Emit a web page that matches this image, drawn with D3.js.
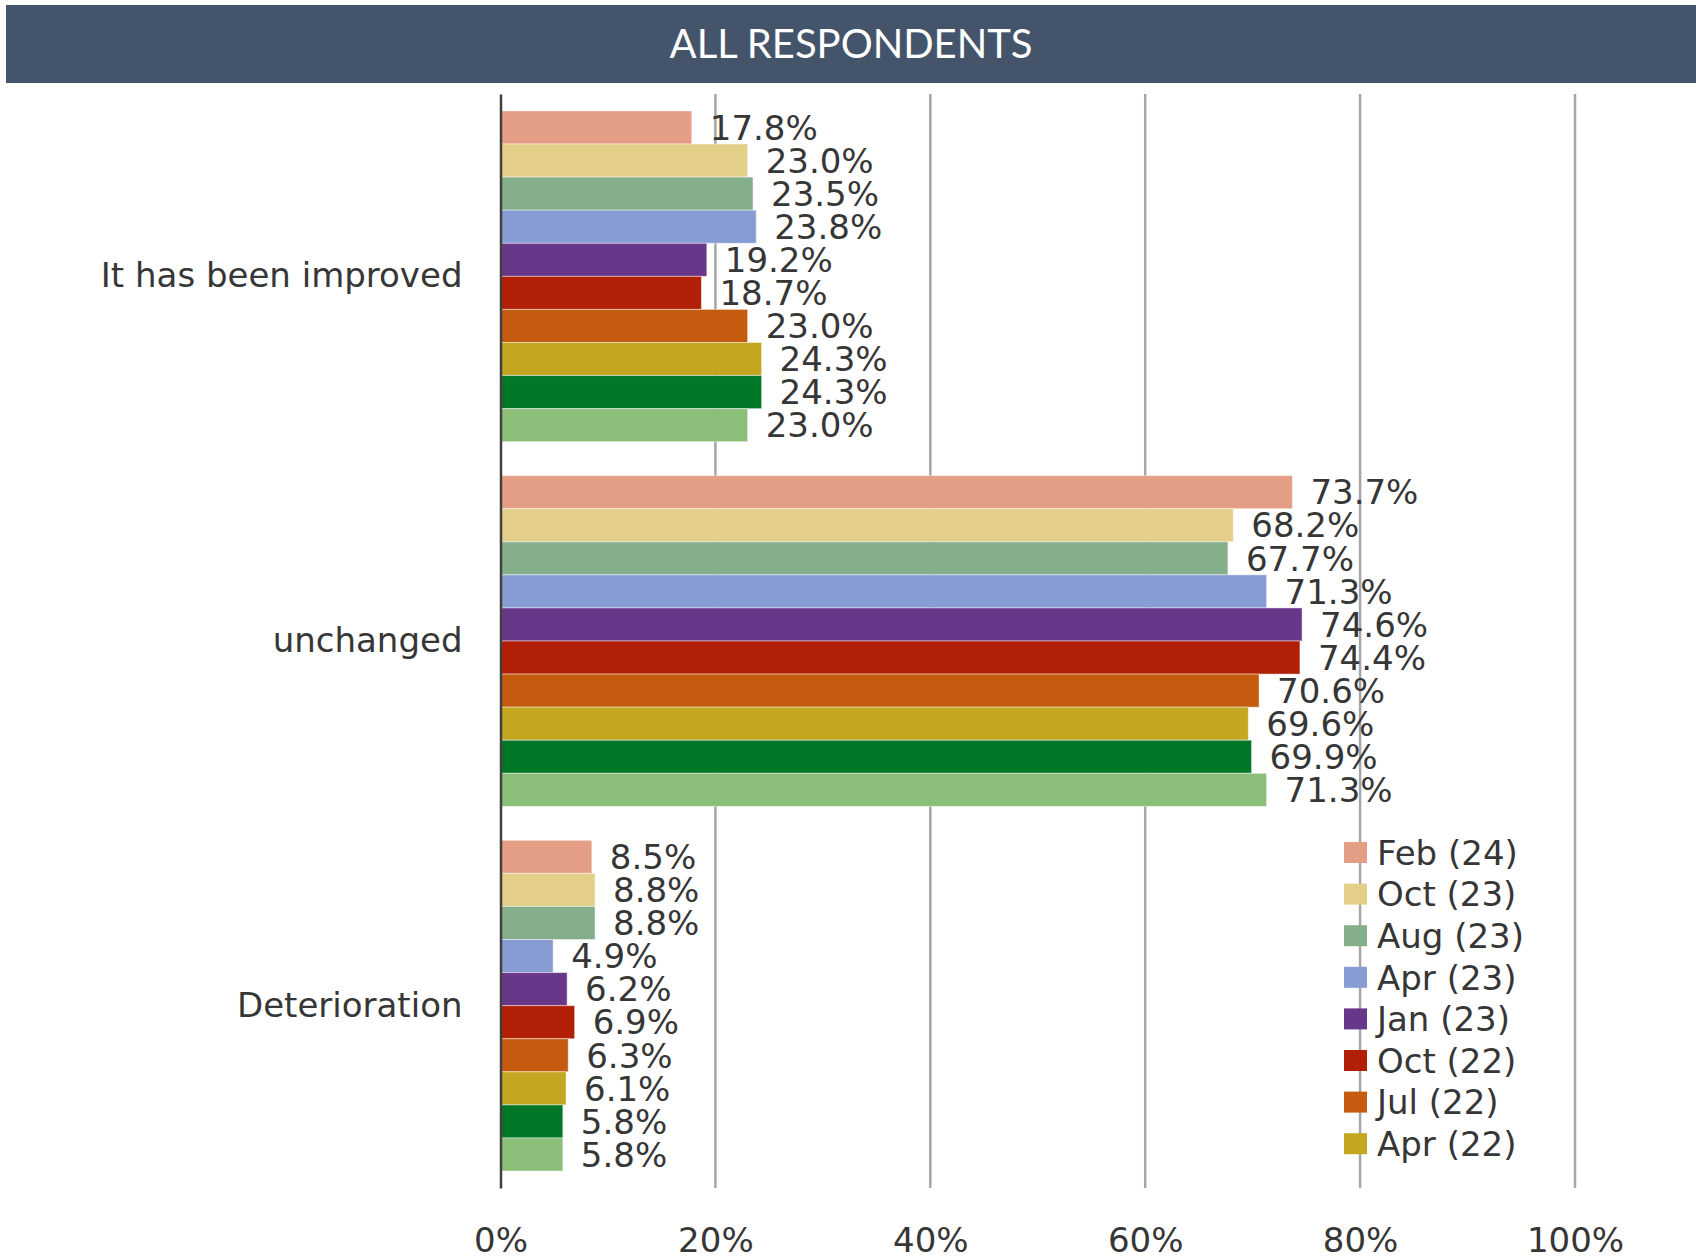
<!DOCTYPE html>
<html><head><meta charset="utf-8">
<script src="https://cdn.jsdelivr.net/npm/d3@7"></script>
<style>html,body{margin:0;padding:0;background:#fff;}svg{display:block;}</style>
</head><body>
<svg id="chart" width="1696" height="1258"></svg>
<script>
const title = "ALL RESPONDENTS";
const categories = ["It has been improved", "unchanged", "Deterioration"];
const seriesNames = ["Feb (24)", "Oct (23)", "Aug (23)", "Apr (23)", "Jan (23)", "Oct (22)", "Jul (22)", "Apr (22)", "Jan (22)", "Oct (21)"];
const seriesColors = ["#E59E86", "#E4CF88", "#85AF8A", "#869CD2", "#693789", "#B01F06", "#C55B0E", "#C4A721", "#007828", "#8BBE78"];
const improvedValues = [17.8, 23.0, 23.5, 23.8, 19.2, 18.7, 23.0, 24.3, 24.3, 23.0];
const unchangedValues = [73.7, 68.2, 67.7, 71.3, 74.6, 74.4, 70.6, 69.6, 69.9, 71.3];
const deteriorationValues = [8.5, 8.8, 8.8, 4.9, 6.2, 6.9, 6.3, 6.1, 5.8, 5.8];
const xTicks = [0, 20, 40, 60, 80, 100];
const legendCount = 8;

const valuesByCategory = [improvedValues, unchangedValues, deteriorationValues];
const svg = d3.select("#chart");
const W = 1696;
const font = "'DejaVu Sans', Verdana, sans-serif";
const textColor = "#363636";

// header
svg.append("rect").attr("x", 6).attr("y", 5).attr("width", W - 6).attr("height", 78).attr("fill", "#44546A");
svg.append("text").attr("x", 851).attr("y", 58).attr("text-anchor", "middle")
  .attr("fill", "#fff").attr("font-family", "Lato, 'Open Sans', sans-serif").attr("font-size", 40)
  .text(title);

const x = d3.scaleLinear().domain([0, 100]).range([500.5, 1575]);
const y = d3.scaleBand().domain(categories).range([94, 1188]).paddingInner(0.093).paddingOuter(0.0465);
const yInner = d3.scaleBand().domain(seriesNames).range([0, y.bandwidth()]).padding(0);

// gridlines
svg.append("g").selectAll("line").data(xTicks.filter(d => d > 0)).join("line")
  .attr("x1", d => x(d)).attr("x2", d => x(d)).attr("y1", 94).attr("y2", 1188)
  .attr("stroke", "#A6A6A6").attr("stroke-width", 2.5);

// x axis tick labels
const xAxis = d3.axisBottom(x).tickValues(xTicks).tickFormat(d => d + "%").tickSize(0).tickPadding(0);
const xg = svg.append("g").attr("transform", "translate(0,1228)").call(xAxis);
xg.select(".domain").remove();
xg.selectAll("text").attr("font-family", font).attr("font-size", 34).attr("fill", textColor).attr("dy", "0.71em").attr("y", 0);

// bars
const groups = svg.append("g").selectAll("g").data(categories).join("g")
  .attr("transform", d => `translate(0,${y(d)})`);
groups.each(function(cat, ci) {
  const g = d3.select(this);
  const vals = valuesByCategory[ci].map((v, i) => ({ name: seriesNames[i], v, color: seriesColors[i] }));
  g.selectAll("rect").data(vals).join("rect")
    .attr("x", x(0)).attr("y", d => yInner(d.name))
    .attr("width", d => x(d.v) - x(0)).attr("height", yInner.bandwidth())
    .attr("fill", d => d.color).attr("stroke", "rgba(255,255,255,0.45)").attr("stroke-width", 1);
  g.selectAll("text.val").data(vals).join("text").attr("class", "val")
    .attr("x", d => x(d.v) + 18).attr("y", d => yInner(d.name) + yInner.bandwidth() / 2)
    .attr("dy", "0.36em").attr("font-family", font).attr("font-size", 34).attr("fill", textColor)
    .text(d => d.v.toFixed(1) + "%");
});

// y axis line and labels
const yAxis = d3.axisLeft(y).tickSize(0).tickPadding(38);
const yg = svg.append("g").attr("transform", `translate(${x(0)},0)`).call(yAxis);
yg.select(".domain").attr("stroke", "#404040").attr("stroke-width", 2.5);
yg.selectAll("text").attr("font-family", font).attr("font-size", 34).attr("fill", textColor);

// legend
const legend = svg.append("g").attr("transform", "translate(1344,842)");
const li = legend.selectAll("g").data(seriesNames.slice(0, legendCount)).join("g")
  .attr("transform", (d, i) => `translate(0,${i * 41.6})`);
li.append("rect").attr("width", 23).attr("height", 21).attr("fill", (d, i) => seriesColors[i]);
li.append("text").attr("x", 33).attr("y", 10.5).attr("dy", "0.36em")
  .attr("font-family", font).attr("font-size", 34).attr("fill", textColor).text(d => d);
</script>
</body></html>
